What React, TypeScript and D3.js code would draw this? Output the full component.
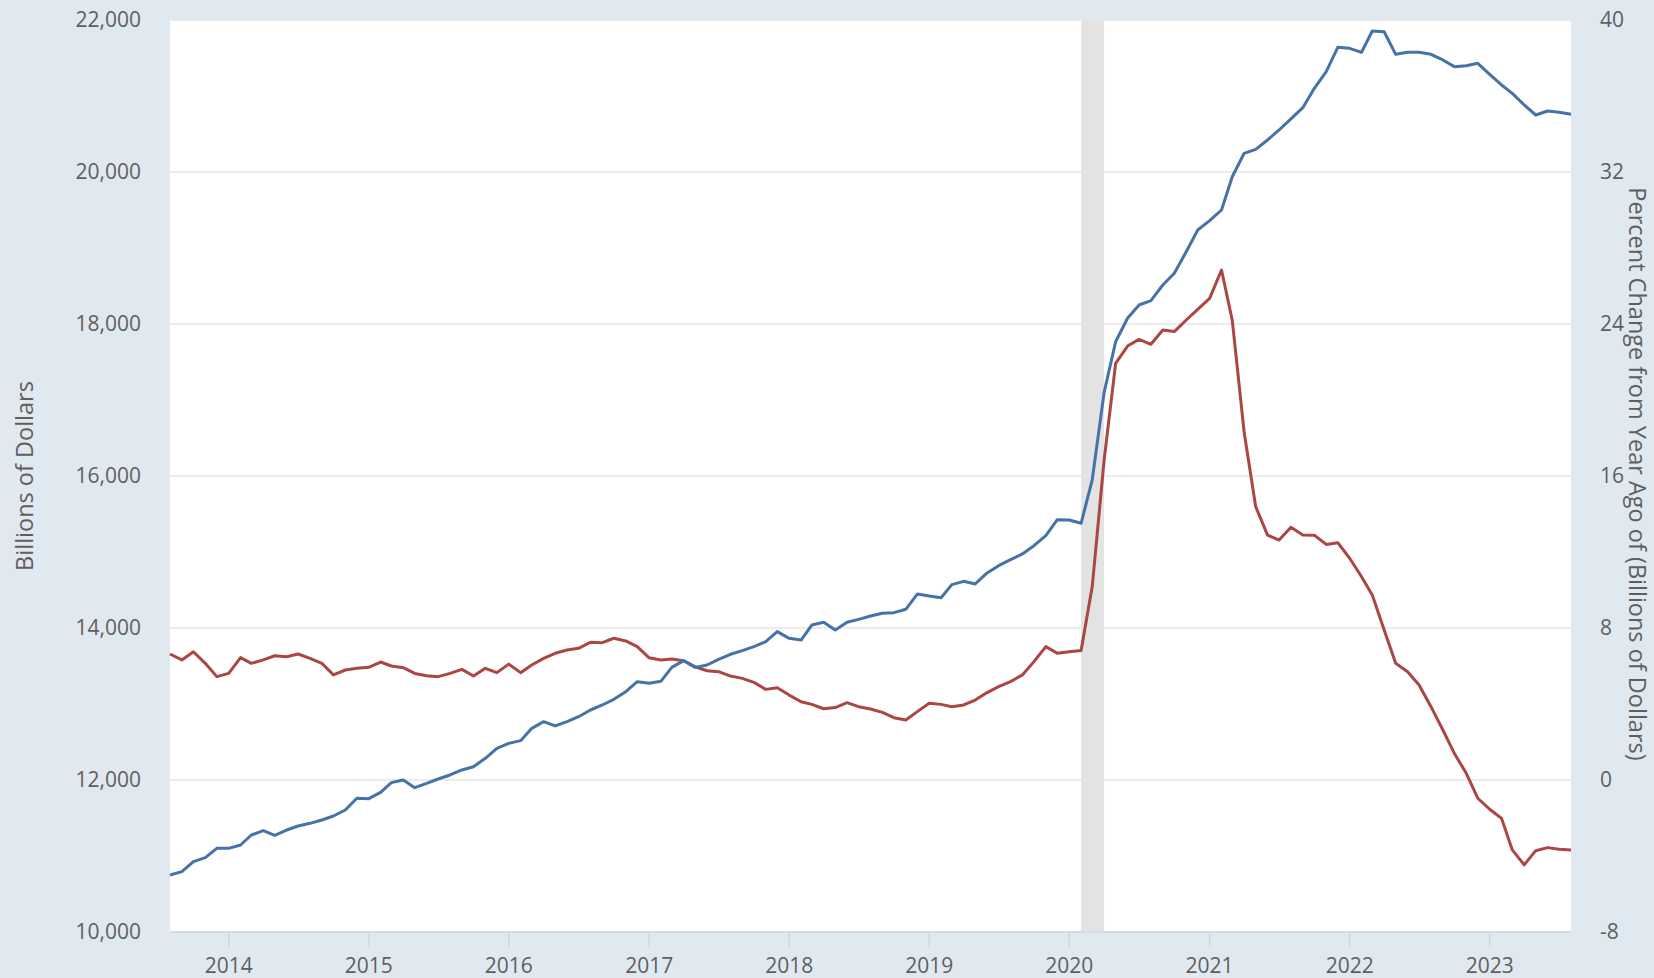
import * as d3 from 'd3';

// M2 (not seasonally adjusted), monthly, Aug 2013 - Aug 2023
const startMonth = new Date(2013, 7, 1);
const endMonth = new Date(2023, 7, 1);

const levelValues = [
  10750, 10794, 10925, 10978, 11101, 11101, 11145, 11276, 11333, 11272, 11342, 11395,
  11430, 11474, 11526, 11605, 11759, 11754, 11838, 11965, 12000, 11899, 11956, 12013,
  12066, 12132, 12175, 12285, 12417, 12482, 12518, 12680, 12768, 12711, 12768, 12833,
  12921, 12987, 13061, 13162, 13294, 13272, 13300, 13482, 13570, 13482, 13513, 13588,
  13654, 13702, 13754, 13820, 13952, 13864, 13842, 14039, 14075, 13974, 14075, 14114,
  14158, 14193, 14202, 14246, 14447, 14421, 14399, 14571, 14614, 14580, 14724, 14820,
  14899, 14974, 15083, 15215, 15425, 15421, 15378, 15950, 17100, 17767, 18075, 18250,
  18307, 18513, 18667, 18951, 19237, 19360, 19500, 19938, 20246, 20298, 20421, 20553,
  20700, 20846, 21101, 21320, 21641, 21627, 21575, 21855, 21846, 21548, 21575, 21575,
  21548, 21474, 21386, 21399, 21430, 21285, 21145, 21035, 20882, 20750, 20803, 20785,
  20759
];

const changeValues = [
  6.63, 6.32, 6.75, 6.14, 5.44, 5.61, 6.44, 6.14, 6.32, 6.54, 6.49, 6.63,
  6.40, 6.14, 5.53, 5.79, 5.88, 5.93, 6.21, 6.00, 5.91, 5.61, 5.49, 5.44,
  5.61, 5.82, 5.47, 5.88, 5.65, 6.10, 5.65, 6.05, 6.40, 6.67, 6.84, 6.93,
  7.25, 7.23, 7.46, 7.32, 7.02, 6.43, 6.32, 6.37, 6.28, 5.96, 5.75, 5.70,
  5.47, 5.35, 5.14, 4.77, 4.86, 4.47, 4.12, 3.98, 3.75, 3.81, 4.07, 3.86,
  3.74, 3.56, 3.28, 3.16, 3.60, 4.04, 3.98, 3.86, 3.95, 4.21, 4.60, 4.91,
  5.18, 5.53, 6.23, 7.02, 6.67, 6.75, 6.81, 10.18, 16.84, 21.93, 22.84, 23.19,
  22.93, 23.68, 23.60, 24.21, 24.77, 25.35, 26.84, 24.20, 18.30, 14.39, 12.89, 12.63,
  13.30, 12.90, 12.88, 12.40, 12.49, 11.67, 10.70, 9.74, 7.89, 6.14, 5.70, 5.00,
  3.86, 2.63, 1.40, 0.35, -0.96, -1.54, -2.02, -3.68, -4.47, -3.72, -3.56, -3.65,
  -3.68
];

const yearTicks = [2014, 2015, 2016, 2017, 2018, 2019, 2020, 2021, 2022, 2023];
const leftTicks = [10000, 12000, 14000, 16000, 18000, 20000, 22000];
const rightTicks = [-8, 0, 8, 16, 24, 32, 40];
const recession = [new Date(2020, 1, 1), new Date(2020, 3, 1)];

const W = 1654;
const H = 978;
const plot = { left: 170, right: 1571, top: 20, bottom: 932 };
const font = "'Open Sans', 'Noto Sans', sans-serif";
const labelColor = '#5f5f5f';

const months = d3.timeMonth.range(startMonth, d3.timeMonth.offset(endMonth, 1));

const x = d3.scaleTime().domain([startMonth, endMonth]).range([plot.left, plot.right]);
const yLeft = d3.scaleLinear().domain([10000, 22000]).range([plot.bottom, plot.top]);
const yRight = d3.scaleLinear().domain([-8, 40]).range([plot.bottom, plot.top]);

const levelLine = d3.line<number>()
  .x((_, i) => x(months[i]))
  .y(d => yLeft(d));

const changeLine = d3.line<number>()
  .x((_, i) => x(months[i]))
  .y(d => yRight(d));

const fmt = d3.format(',');

export default function App() {
  return (
    <svg
      width={W}
      height={H}
      style={{ position: 'absolute', left: 0, top: 0, display: 'block' }}
      fontFamily={font}
    >
      <rect x={0} y={0} width={W} height={H} fill="#e1e9f0" />
      <rect
        x={plot.left}
        y={plot.top}
        width={plot.right - plot.left}
        height={plot.bottom - plot.top}
        fill="#ffffff"
      />

      {/* gridlines */}
      {leftTicks.map(t => (
        <line
          key={'g' + t}
          x1={plot.left}
          x2={plot.right}
          y1={yLeft(t)}
          y2={yLeft(t)}
          stroke="#e6e6e6"
          strokeWidth={1.5}
        />
      ))}

      {/* recession shading */}
      <rect
        x={x(recession[0])}
        y={plot.top}
        width={x(recession[1]) - x(recession[0])}
        height={plot.bottom - plot.top}
        fill="#e3e3e3"
      />

      {/* x axis */}
      <line x1={plot.left} x2={plot.right} y1={plot.bottom} y2={plot.bottom} stroke="#ccd6eb" strokeWidth={1.5} />
      {yearTicks.map(yr => {
        const xp = x(new Date(yr, 0, 1));
        return (
          <g key={'x' + yr}>
            <line x1={xp} x2={xp} y1={plot.bottom} y2={plot.bottom + 15} stroke="#ccd6eb" strokeWidth={1.5} />
            <text x={xp} y={965} textAnchor="middle" dominantBaseline="central" fontSize={21} fill={labelColor}>
              {yr}
            </text>
          </g>
        );
      })}

      {/* left axis */}
      {leftTicks.map(t => (
        <text
          key={'l' + t}
          x={141}
          y={yLeft(t) - 1}
          textAnchor="end"
          dominantBaseline="central"
          fontSize={21}
          fill={labelColor}
        >
          {fmt(t)}
        </text>
      ))}
      <text
        transform={`translate(24, 476) rotate(-90)`}
        textAnchor="middle"
        dominantBaseline="central"
        fontSize={23.5}
        fill={labelColor}
      >
        Billions of Dollars
      </text>

      {/* right axis */}
      {rightTicks.map(t => (
        <text
          key={'r' + t}
          x={1600}
          y={yRight(t) - 1}
          textAnchor="start"
          dominantBaseline="central"
          fontSize={21}
          fill={labelColor}
        >
          {t}
        </text>
      ))}
      <text
        transform={`translate(1638, 474) rotate(90)`}
        textAnchor="middle"
        dominantBaseline="central"
        fontSize={23.5}
        fill={labelColor}
      >
        Percent Change from Year Ago of (Billions of Dollars)
      </text>

      {/* series */}
      <path d={changeLine(changeValues) || ''} fill="none" stroke="#aa4643" strokeWidth={3} strokeLinejoin="round" />
      <path d={levelLine(levelValues) || ''} fill="none" stroke="#4572a7" strokeWidth={3} strokeLinejoin="round" />
    </svg>
  );
}
